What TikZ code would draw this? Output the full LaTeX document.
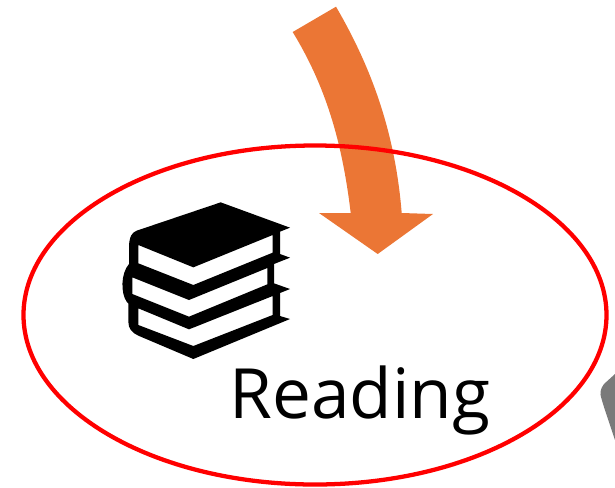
\documentclass[tikz,border=0pt]{standalone}
\usepackage{fontspec}
\setmainfont{Open Sans}
\definecolor{arroworange}{HTML}{EB7635}
\definecolor{ringred}{HTML}{FF0000}
\definecolor{edgegrey}{HTML}{7A7A7A}
\tikzset{
  arrowshape/.style={fill=arroworange,draw=none},
  ring/.style={draw=ringred,line width=3.2pt,fill=none},
  labeltext/.style={font=\fontsize{52}{62}\selectfont,text=black,inner sep=0pt,anchor=base west},
}
\begin{document}
\begin{tikzpicture}[x=0.75pt,y=-0.75pt]
\useasboundingbox (0,0) rectangle (615,487);
% grey fragment at right edge
\fill[edgegrey] (615,374) -- (604,384) .. controls (600,389) and (600,394) .. (601,397)
  .. controls (604,408) and (610,425) .. (615,440) -- cycle;
% curved arrow
\fill[arrowshape] (292.7,32) -- (336,6.7)
  .. controls (370,65) and (395,130) .. (401.7,213)
  -- (433,214) -- (377.7,254) -- (319,213) -- (350.7,213)
  .. controls (342,140) and (325,85) .. (292.7,32) -- cycle;
% ellipse
\draw[ring] (315,315) ellipse [x radius=291.5,y radius=169.5];
% books
\begin{scope}[shift={(110,190)},x=0.25pt,y=-0.25pt]
\fill[black,even odd rule]
  (332,37) -- (540,113) -- (510,125) -- (510,192) -- (540,203) -- (492,222) -- (492,280)
  -- (540,297) -- (510,309) -- (510,378) -- (540,387) -- (250,507) -- (85,437)
  .. controls (65,428) and (55,415) .. (55,395) -- (55,340) -- (50,335)
  .. controls (32,310) and (32,250) .. (57,222) -- (57,170)
  .. controls (58,140) and (65,128) .. (80,122) -- cycle
  (85,165) -- (250,232) -- (488,135) -- (488,188) -- (250,285) -- (85,220) -- cycle
  (67,262) -- (237,330) -- (472,234) -- (472,283) -- (237,380) -- (67,312) -- cycle
  (85,355) -- (237,418) -- (488,318) -- (488,375) -- (250,468) -- (85,405) -- cycle;
\end{scope}
% label
\node[labeltext] (reading) at (229,418) {Reading};
\end{tikzpicture}
\end{document}
